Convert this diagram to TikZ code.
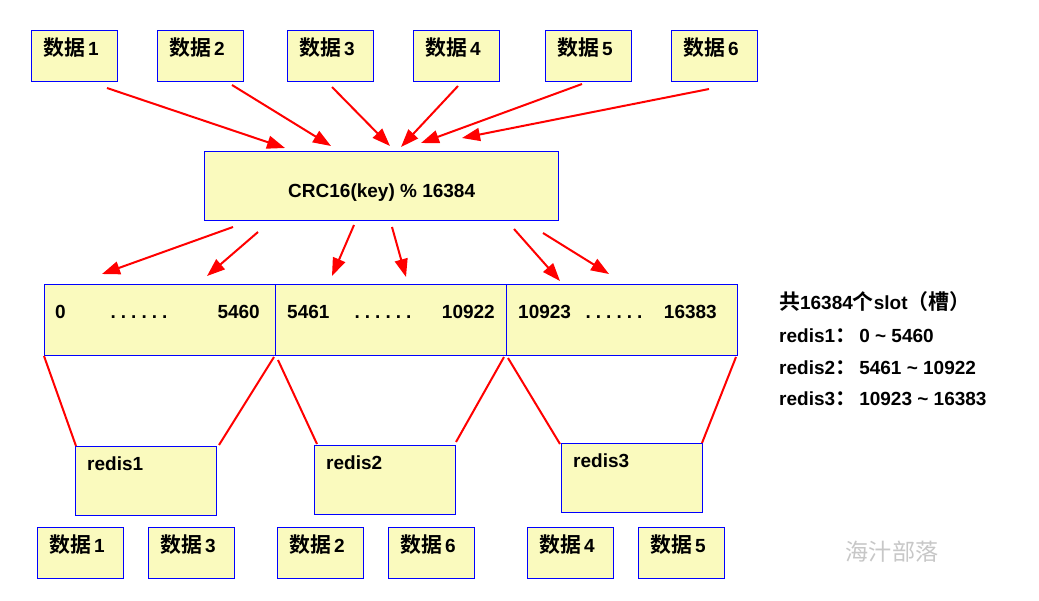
\documentclass[tikz,border=0pt]{standalone}
\usepackage{fontspec}
\setmainfont{Liberation Sans}
\newfontfamily\cjk{Noto Sans CJK SC}[Scale=1.1,BoldFont={Noto Sans CJK SC Bold}]
\usetikzlibrary{arrows.meta,calc}
\definecolor{boxyellow}{RGB}{250,250,190}
\definecolor{boxblue}{RGB}{0,0,255}
\definecolor{linered}{RGB}{255,0,0}
\newcommand{\sixdots}{.\hspace{5pt}.\hspace{5pt}.\hspace{5pt}.\hspace{5pt}.\hspace{5pt}.}
\begin{document}
\begin{tikzpicture}[x=1pt,y=-1pt,
  box/.style={draw=boxblue, line width=1.4pt, fill=boxyellow, anchor=north west, inner sep=0pt},
  databox/.style={box, minimum width=86pt, minimum height=51pt},
  redisbox/.style={box, minimum width=141pt, minimum height=69pt},
  slotbox/.style={box, minimum width=231pt, minimum height=71pt},
  lbl/.style={inner sep=0pt, font=\fontsize{19}{22}\selectfont\bfseries},
  dotlbl/.style={lbl, text height=13.7pt, text depth=0pt},
  arr/.style={draw=linered, line width=2pt, -{Triangle[length=18pt,width=13pt]}},
  ln/.style={draw=linered, line width=2pt},
]
\useasboundingbox (0,0) rectangle (1039,600);
\fill[white] (0,0) rectangle (1039,600);

% top data boxes
\node[databox] (t1) at (31,30) {};
\node[databox] (t2) at (157,30) {};
\node[databox] (t3) at (287,30) {};
\node[databox] (t4) at (413,30) {};
\node[databox] (t5) at (545,30) {};
\node[databox] (t6) at (671,30) {};
\foreach \i in {1,...,6}{
  \node[lbl, anchor=west] (t\i l) at ($(t\i.north west)+(12,18)$) {{\cjk 数据}\,\i};
}

% CRC box
\node[box, minimum width=354pt, minimum height=69pt] (crc) at (204,151) {};
\node[lbl] (crcl) at ($(crc.center)+(0,6)$) {CRC16(key) \% 16384};

% arrows into CRC
\coordinate (a1s) at (107,88);  \coordinate (a1e) at (285,148);
\coordinate (a2s) at (232,85);  \coordinate (a2e) at (331,146);
\coordinate (a3s) at (332,87);  \coordinate (a3e) at (390,146);
\coordinate (a4s) at (458,86);  \coordinate (a4e) at (401,147);
\coordinate (a5s) at (582,84);  \coordinate (a5e) at (421,143);
\coordinate (a6s) at (709,89);  \coordinate (a6e) at (462,138);
\foreach \i in {1,...,6}{ \draw[arr] (a\i s) -- (a\i e); }

% slot boxes
\node[slotbox] (s1) at (44,284) {};
\node[slotbox] (s2) at (275,284) {};
\node[slotbox] (s3) at (506,284) {};
\node[lbl, anchor=west] (s1a) at (55,312) {0};
\node[dotlbl] (s1b) at (139,312) {\sixdots};
\node[lbl, anchor=east] (s1c) at (260,312) {5460};
\node[lbl, anchor=west] (s2a) at (287,312) {5461};
\node[dotlbl] (s2b) at (383,312) {\sixdots};
\node[lbl, anchor=east] (s2c) at (495,312) {10922};
\node[lbl, anchor=west] (s3a) at (518,312) {10923};
\node[dotlbl] (s3b) at (614,312) {\sixdots};
\node[lbl, anchor=east] (s3c) at (717,312) {16383};

% arrows out of CRC
\coordinate (b1s) at (233,227); \coordinate (b1e) at (102,274);
\coordinate (b2s) at (258,232); \coordinate (b2e) at (207,276);
\coordinate (b3s) at (354,225); \coordinate (b3e) at (332,276);
\coordinate (b4s) at (392,227); \coordinate (b4e) at (406,277);
\coordinate (b5s) at (514,229); \coordinate (b5e) at (560,281);
\coordinate (b6s) at (543,233); \coordinate (b6e) at (609,274);
\foreach \i in {1,...,6}{ \draw[arr] (b\i s) -- (b\i e); }

% redis boxes
\node[redisbox] (r1) at (75,446) {};
\node[redisbox] (r2) at (314,445) {};
\node[redisbox] (r3) at (561,443) {};
\foreach \i in {1,2,3}{
  \node[lbl, anchor=west] (r\i l) at ($(r\i.north west)+(12,18)$) {redis\i};
}

% lines from slots to redis
\coordinate (l1s) at (44,356);  \coordinate (l1e) at (76,446);
\coordinate (l2s) at (274,357); \coordinate (l2e) at (219,445);
\coordinate (l3s) at (278,360); \coordinate (l3e) at (317,444);
\coordinate (l4s) at (504,357); \coordinate (l4e) at (456,442);
\coordinate (l5s) at (508,358); \coordinate (l5e) at (560,444);
\coordinate (l6s) at (736,357); \coordinate (l6e) at (702,443);
\foreach \i in {1,...,6}{ \draw[ln] (l\i s) -- (l\i e); }

% bottom data boxes
\node[databox] (u1) at (37,527) {};
\node[databox] (u3) at (148,527) {};
\node[databox] (u2) at (277,527) {};
\node[databox] (u6) at (388,527) {};
\node[databox] (u4) at (527,527) {};
\node[databox] (u5) at (638,527) {};
\foreach \i in {1,...,6}{
  \node[lbl, anchor=west] (u\i l) at ($(u\i.north west)+(12,18)$) {{\cjk 数据}\,\i};
}

% right legend
\node[lbl, anchor=west] (leg1) at (779,302) {{\cjk 共}16384{\cjk 个}slot{\cjk （槽）}};
\node[lbl, anchor=west] (leg2) at (779,336) {redis1{\cjk ：}\,0 \textasciitilde{} 5460};
\node[lbl, anchor=west] (leg3) at (779,368) {redis2{\cjk ：}\,5461 \textasciitilde{} 10922};
\node[lbl, anchor=west] (leg4) at (779,399) {redis3{\cjk ：}\,10923 \textasciitilde{} 16383};

% watermark
\node[inner sep=0pt, text=black!22, font=\cjk\fontsize{21}{24}\selectfont] (wm) at (892,552) {海汁部落};
\end{tikzpicture}
\end{document}
